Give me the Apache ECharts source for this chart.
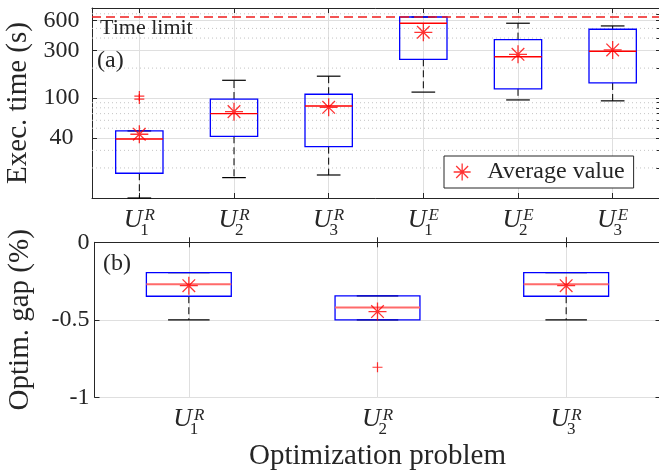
<!DOCTYPE html>
<html><head><meta charset="utf-8">
<script src="https://cdn.jsdelivr.net/npm/echarts@6/dist/echarts.min.js"></script>
<style>html,body{margin:0;padding:0;background:#fff}#c{width:659px;height:474px}</style>
</head><body><div id="c"></div>
<script>
// ---------- data: panel (a) execution time (log scale) ----------
const categoriesA = ['U_1^R','U_2^R','U_3^R','U_1^E','U_2^E','U_3^E'];
const lowA    = [10,   16,   17,    115, 96,  94];
const q1A     = [17.7, 41.5, 32.7,  245, 124, 142];
const medianA = [39,   70,   83.5,  563, 260, 295];
const q3A     = [47,   98,   109.5, 650, 386, 490];
const highA   = [47,   151,  166,   650, 563, 529];
const meanA   = [43.5, 73.3, 81,    457, 275, 304];
const outlierCatA = [0, 0];
const outlierValA = [98, 105];
const timeLimit = 650;
const majorTicksA = [40, 100, 300, 600];
const minorTicksA = [20, 30, 50, 60, 70, 80, 90, 200, 400, 500, 700];

// ---------- data: panel (b) optimality gap ----------
const categoriesB = ['U_1^R','U_2^R','U_3^R'];
const lowB    = [-0.5,  -0.5,  -0.5];
const q1B     = [-0.348,-0.5,  -0.348];
const medianB = [-0.27, -0.42, -0.27];
const q3B     = [-0.196,-0.345,-0.196];
const highB   = [-0.196,-0.345,-0.196];
const meanB   = [-0.28, -0.447,-0.28];
const outlierCatB = [1];
const outlierValB = [-0.806];

// ---------- styling ----------
const FONT = 'Liberation Serif';
const TXT = '#262626';
const GRID = '#dfdfdf';
const STAR = 'path://M10,0L10,20M0,10L20,10M3,3L17,17M3,17L17,3';
const PLUS = 'path://M5,0L5,10M0,5L10,5';

function fmtCat(v) {
  const m = /U_(\d)\^(\w)/.exec(v);
  return '{u|U}{sp| }{sub|' + m[1] + '}{sup|' + m[2] + '}';
}
const richLbl = {
  u:   {fontFamily: FONT, fontStyle: 'italic', fontSize: 26, lineHeight: 38, height: 38, color: TXT},
  sp:  {fontFamily: FONT, fontSize: 10, width: 2, height: 10, color: TXT},
  sub: {fontFamily: FONT, fontSize: 17, width: 0, height: 17, verticalAlign: 'bottom', align: 'left', color: TXT},
  sup: {fontFamily: FONT, fontStyle: 'italic', fontSize: 17, height: 30, verticalAlign: 'top', align: 'left', color: TXT}
};

function boxRender(boxFrac, capFrac, medColor, medWidth) {
  return function (params, api) {
    const x = api.value(0);
    const lo = api.value(1), q1 = api.value(2), md = api.value(3), q3 = api.value(4), hi = api.value(5);
    const band = api.size([1, 0], [x, q1])[0];
    const hw = band * boxFrac / 2, cw = band * capFrac / 2;
    const c = v => api.coord([x, v]);
    const pLo = c(lo), pQ1 = c(q1), pMd = c(md), pQ3 = c(q3), pHi = c(hi);
    const cx = pMd[0];
    const ch = [];
    const dashStyle = {stroke: '#000', lineWidth: 1, lineDash: [7, 4], fill: 'none'};
    const capStyle = {stroke: '#000', lineWidth: 1.2, fill: 'none'};
    if (pHi[1] < pQ3[1] - 0.5) ch.push({type: 'line', shape: {x1: cx, y1: pQ3[1], x2: cx, y2: pHi[1]}, style: dashStyle});
    if (pLo[1] > pQ1[1] + 0.5) ch.push({type: 'line', shape: {x1: cx, y1: pQ1[1], x2: cx, y2: pLo[1]}, style: dashStyle});
    ch.push({type: 'line', shape: {x1: cx - cw, y1: pHi[1], x2: cx + cw, y2: pHi[1]}, style: capStyle});
    ch.push({type: 'line', shape: {x1: cx - cw, y1: pLo[1], x2: cx + cw, y2: pLo[1]}, style: capStyle});
    ch.push({type: 'rect', shape: {x: cx - hw, y: pQ3[1], width: 2 * hw, height: pQ1[1] - pQ3[1]},
             style: {stroke: '#0000ff', lineWidth: 1.3, fill: 'none'}});
    ch.push({type: 'line', shape: {x1: cx - hw, y1: pMd[1], x2: cx + hw, y2: pMd[1]},
             style: {stroke: medColor, lineWidth: medWidth, fill: 'none'}});
    return {type: 'group', children: ch};
  };
}

// horizontal reference line across the whole plot area at a data value
function hLineRender(color, dash, width) {
  return function (params, api) {
    const cs = params.coordSys;
    const y = api.coord([0, api.value(0)])[1];
    return {type: 'line', shape: {x1: cs.x, y1: y, x2: cs.x + cs.width, y2: y},
            style: {stroke: color, lineWidth: width, lineDash: dash, fill: 'none'}};
  };
}

const axisLineStyle = {show: true, lineStyle: {color: TXT, width: 1}};
const tickLbl = {fontFamily: FONT, fontSize: 24, color: TXT};
const nameStyle = {fontFamily: FONT, fontSize: 29, color: TXT};

const chart = echarts.init(document.getElementById('c'), null, {renderer: 'canvas'});
chart.setOption({
  animation: false,
  backgroundColor: '#fff',
  grid: [
    {left: 92, top: 8, width: 568, height: 190, containLabel: false, outerBoundsMode: 'none'},
    {left: 94.5, top: 242.3, width: 566, height: 155, containLabel: false, outerBoundsMode: 'none'}
  ],
  xAxis: [
    {type: 'category', gridIndex: 0, data: categoriesA, position: 'bottom',
     axisLine: axisLineStyle, axisTick: {show: true, alignWithLabel: true, inside: true, length: 5, lineStyle: {color: TXT}},
     splitLine: {show: true, alignWithLabel: true, lineStyle: {color: GRID}},
     axisLabel: {formatter: fmtCat, rich: richLbl, margin: 3, interval: 0}},
    {type: 'category', gridIndex: 0, data: categoriesA, position: 'top',
     axisLine: axisLineStyle, axisTick: {show: true, alignWithLabel: true, inside: true, length: 5, lineStyle: {color: TXT}},
     splitLine: {show: false}, axisLabel: {show: false}},
    {type: 'category', gridIndex: 1, data: categoriesB, position: 'bottom',
     axisLine: axisLineStyle, axisTick: {show: true, alignWithLabel: true, inside: true, length: 5, lineStyle: {color: TXT}},
     splitLine: {show: true, alignWithLabel: true, lineStyle: {color: GRID}},
     axisLabel: {formatter: fmtCat, rich: richLbl, margin: 3, interval: 0},
     name: 'Optimization problem', nameLocation: 'middle', nameGap: 45, nameTextStyle: nameStyle},
    {type: 'category', gridIndex: 1, data: categoriesB, position: 'top',
     axisLine: axisLineStyle, axisTick: {show: true, alignWithLabel: true, inside: true, length: 5, lineStyle: {color: TXT}},
     splitLine: {show: false}, axisLabel: {show: false}}
  ],
  yAxis: [
    {type: 'log', logBase: 10, gridIndex: 0, min: 10, max: 800, position: 'left',
     axisLine: axisLineStyle, axisTick: {show: true, inside: true, length: 5, customValues: majorTicksA, lineStyle: {color: TXT}},
     axisLabel: Object.assign({customValues: majorTicksA, align: 'center', margin: 30.5}, tickLbl),
     splitLine: {show: true, lineStyle: {color: GRID}},
     name: 'Exec. time (s)', nameLocation: 'middle', nameGap: 57, nameTextStyle: nameStyle},
    {type: 'log', logBase: 10, gridIndex: 0, min: 10, max: 800, position: 'right',
     axisLine: axisLineStyle, axisTick: {show: true, inside: true, length: 4, customValues: majorTicksA.concat(minorTicksA), lineStyle: {color: TXT}},
     axisLabel: {show: false}, splitLine: {show: false}},
    {type: 'value', gridIndex: 1, min: -1, max: 0, interval: 0.5, position: 'left',
     axisLine: axisLineStyle, axisTick: {show: true, inside: true, length: 5, lineStyle: {color: TXT}},
     axisLabel: Object.assign({margin: 5}, tickLbl),
     splitLine: {show: true, lineStyle: {color: GRID}},
     name: 'Optim. gap (%)', nameLocation: 'middle', nameGap: 60, nameTextStyle: nameStyle},
    {type: 'value', gridIndex: 1, min: -1, max: 0, interval: 0.5, position: 'right',
     axisLine: axisLineStyle, axisTick: {show: true, inside: true, length: 5, lineStyle: {color: TXT}},
     axisLabel: {show: false}, splitLine: {show: false}}
  ],
  legend: {
    data: [{name: 'Average value', icon: STAR}],
    left: 444, top: 156, padding: [4, 9, 4, 9], itemWidth: 40, itemHeight: 17, itemGap: 0,
    borderColor: TXT, borderWidth: 1, backgroundColor: '#fff', selectedMode: false,
    itemStyle: {color: '#ff0000', borderColor: '#ff0000', borderWidth: 1.3},
    textStyle: {fontFamily: FONT, fontSize: 24, color: TXT}
  },
  graphic: [
    {type: 'text', left: 100, top: 17, z: 10, style: {text: 'Time limit', fontFamily: FONT, fontSize: 22, fill: TXT}},
    {type: 'text', left: 97, top: 49, z: 10, style: {text: '(a)', fontFamily: FONT, fontSize: 24, fill: TXT}},
    {type: 'text', left: 103, top: 252, z: 10, style: {text: '(b)', fontFamily: FONT, fontSize: 24, fill: TXT}}
  ],
  series: [
    {name: 'minorGrid', type: 'custom', xAxisIndex: 0, yAxisIndex: 0, z: 1, silent: true,
     renderItem: hLineRender('#c4c4c4', [1, 3], 1),
     encode: {y: 0},
     data: minorTicksA.map(v => [v])},
    {type: 'custom', xAxisIndex: 0, yAxisIndex: 0, z: 3,
     renderItem: boxRender(0.5, 0.25, '#ff0000', 1.3),
     encode: {x: 0, y: [1, 2, 3, 4, 5]},
     data: categoriesA.map((_, i) => [i, lowA[i], q1A[i], medianA[i], q3A[i], highA[i]])},
    {name: 'timeLimit', type: 'custom', xAxisIndex: 0, yAxisIndex: 0, z: 4, silent: true,
     renderItem: hLineRender('#ee1c1c', [9, 5], 1.5),
     encode: {y: 0},
     data: [[timeLimit]]},
    {name: 'outliers', type: 'scatter', xAxisIndex: 0, yAxisIndex: 0, z: 5, symbol: PLUS, symbolSize: 10,
     itemStyle: {color: '#ff0000', borderColor: '#ff0000', borderWidth: 1.2},
     data: outlierCatA.map((c, i) => [c, outlierValA[i]])},
    {name: 'Average value', type: 'scatter', xAxisIndex: 0, yAxisIndex: 0, z: 6, symbol: STAR, symbolSize: 18,
     itemStyle: {color: '#ff0000', borderColor: '#ff0000', borderWidth: 1.3},
     data: meanA.map((v, i) => [i, v])},
    {type: 'custom', xAxisIndex: 2, yAxisIndex: 2, z: 3,
     renderItem: boxRender(0.45, 0.22, '#ff6a6a', 2),
     encode: {x: 0, y: [1, 2, 3, 4, 5]},
     data: categoriesB.map((_, i) => [i, lowB[i], q1B[i], medianB[i], q3B[i], highB[i]])},
    {name: 'outliers', type: 'scatter', xAxisIndex: 2, yAxisIndex: 2, z: 5, symbol: PLUS, symbolSize: 10,
     itemStyle: {color: '#ff0000', borderColor: '#ff0000', borderWidth: 1.2},
     data: outlierCatB.map((c, i) => [c, outlierValB[i]])},
    {name: 'Average value', type: 'scatter', xAxisIndex: 2, yAxisIndex: 2, z: 6, symbol: STAR, symbolSize: 18,
     itemStyle: {color: '#ff0000', borderColor: '#ff0000', borderWidth: 1.3},
     data: meanB.map((v, i) => [i, v])}
  ]
});
</script>
</body></html>
